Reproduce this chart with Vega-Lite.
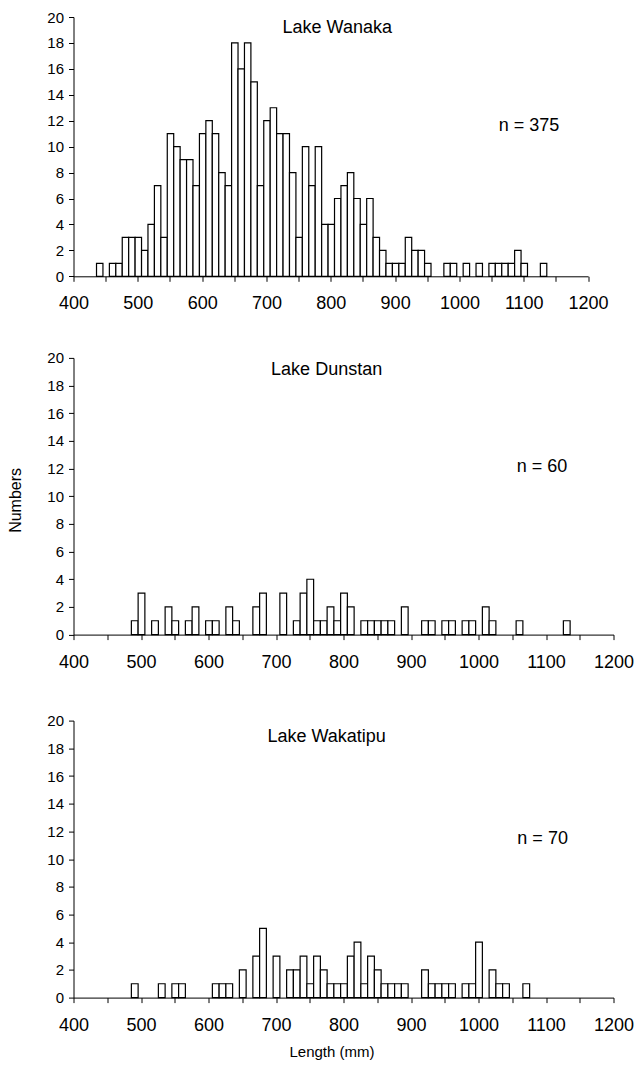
{
  "$schema": "https://vega.github.io/schema/vega-lite/v6.json",
  "background": "white",
  "padding": {"left": 7.5, "top": 10, "right": 2, "bottom": 5},
  "bounds": "flush",
  "spacing": 80.9,
  "config": {
    "font": "Liberation Sans",
    "view": {"stroke": null},
    "axis": {
      "grid": false,
      "domainColor": "#000",
      "tickColor": "#000",
      "labelColor": "#000",
      "titleColor": "#000",
      "labelFont": "Liberation Sans",
      "titleFont": "Liberation Sans",
      "labelFontSize": 18,
      "titleFontSize": 16,
      "titleFontWeight": "normal",
      "tickSize": 5,
      "domainWidth": 1,
      "tickWidth": 1,
      "labelOverlap": false
    },
    "axisX": {"tickCount": 40},
    "axisY": {"labelFontSize": 15, "labelOverlap": false, "tickCount": 40},
    "text": {"font": "Liberation Sans", "fontSize": 18, "color": "#000"}
  },
  "datasets": {
    "wanaka": [
      {"from": 435, "to": 445, "n": 1}, {"from": 455, "to": 465, "n": 1}, {"from": 465, "to": 475, "n": 1},
      {"from": 475, "to": 485, "n": 3}, {"from": 485, "to": 495, "n": 3}, {"from": 495, "to": 505, "n": 3},
      {"from": 505, "to": 515, "n": 2}, {"from": 515, "to": 525, "n": 4}, {"from": 525, "to": 535, "n": 7},
      {"from": 535, "to": 545, "n": 3}, {"from": 545, "to": 555, "n": 11}, {"from": 555, "to": 565, "n": 10},
      {"from": 565, "to": 575, "n": 9}, {"from": 575, "to": 585, "n": 9}, {"from": 585, "to": 595, "n": 7},
      {"from": 595, "to": 605, "n": 11}, {"from": 605, "to": 615, "n": 12}, {"from": 615, "to": 625, "n": 11},
      {"from": 625, "to": 635, "n": 8}, {"from": 635, "to": 645, "n": 7}, {"from": 645, "to": 655, "n": 18},
      {"from": 655, "to": 665, "n": 16}, {"from": 665, "to": 675, "n": 18}, {"from": 675, "to": 685, "n": 15},
      {"from": 685, "to": 695, "n": 7}, {"from": 695, "to": 705, "n": 12}, {"from": 705, "to": 715, "n": 13},
      {"from": 715, "to": 725, "n": 11}, {"from": 725, "to": 735, "n": 11}, {"from": 735, "to": 745, "n": 8},
      {"from": 745, "to": 755, "n": 3}, {"from": 755, "to": 765, "n": 10}, {"from": 765, "to": 775, "n": 7},
      {"from": 775, "to": 785, "n": 10}, {"from": 785, "to": 795, "n": 4}, {"from": 795, "to": 805, "n": 4},
      {"from": 805, "to": 815, "n": 6}, {"from": 815, "to": 825, "n": 7}, {"from": 825, "to": 835, "n": 8},
      {"from": 835, "to": 845, "n": 6}, {"from": 845, "to": 855, "n": 4}, {"from": 855, "to": 865, "n": 6},
      {"from": 865, "to": 875, "n": 3}, {"from": 875, "to": 885, "n": 2}, {"from": 885, "to": 895, "n": 1},
      {"from": 895, "to": 905, "n": 1}, {"from": 905, "to": 915, "n": 1}, {"from": 915, "to": 925, "n": 3},
      {"from": 925, "to": 935, "n": 2}, {"from": 935, "to": 945, "n": 2}, {"from": 945, "to": 955, "n": 1},
      {"from": 975, "to": 985, "n": 1}, {"from": 985, "to": 995, "n": 1}, {"from": 1005, "to": 1015, "n": 1},
      {"from": 1025, "to": 1035, "n": 1}, {"from": 1045, "to": 1055, "n": 1}, {"from": 1055, "to": 1065, "n": 1},
      {"from": 1065, "to": 1075, "n": 1}, {"from": 1075, "to": 1085, "n": 1}, {"from": 1085, "to": 1095, "n": 2},
      {"from": 1095, "to": 1105, "n": 1}, {"from": 1125, "to": 1135, "n": 1}
    ],
    "dunstan": [
      {"from": 485, "to": 495, "n": 1}, {"from": 495, "to": 505, "n": 3}, {"from": 515, "to": 525, "n": 1},
      {"from": 535, "to": 545, "n": 2}, {"from": 545, "to": 555, "n": 1}, {"from": 565, "to": 575, "n": 1},
      {"from": 575, "to": 585, "n": 2}, {"from": 595, "to": 605, "n": 1}, {"from": 605, "to": 615, "n": 1},
      {"from": 625, "to": 635, "n": 2}, {"from": 635, "to": 645, "n": 1}, {"from": 665, "to": 675, "n": 2},
      {"from": 675, "to": 685, "n": 3}, {"from": 705, "to": 715, "n": 3}, {"from": 725, "to": 735, "n": 1},
      {"from": 735, "to": 745, "n": 3}, {"from": 745, "to": 755, "n": 4}, {"from": 755, "to": 765, "n": 1},
      {"from": 765, "to": 775, "n": 1}, {"from": 775, "to": 785, "n": 2}, {"from": 785, "to": 795, "n": 1},
      {"from": 795, "to": 805, "n": 3}, {"from": 805, "to": 815, "n": 2}, {"from": 825, "to": 835, "n": 1},
      {"from": 835, "to": 845, "n": 1}, {"from": 845, "to": 855, "n": 1}, {"from": 855, "to": 865, "n": 1},
      {"from": 865, "to": 875, "n": 1}, {"from": 885, "to": 895, "n": 2}, {"from": 915, "to": 925, "n": 1},
      {"from": 925, "to": 935, "n": 1}, {"from": 945, "to": 955, "n": 1}, {"from": 955, "to": 965, "n": 1},
      {"from": 975, "to": 985, "n": 1}, {"from": 985, "to": 995, "n": 1}, {"from": 1005, "to": 1015, "n": 2},
      {"from": 1015, "to": 1025, "n": 1}, {"from": 1055, "to": 1065, "n": 1}, {"from": 1125, "to": 1135, "n": 1}
    ],
    "wakatipu": [
      {"from": 485, "to": 495, "n": 1}, {"from": 525, "to": 535, "n": 1}, {"from": 545, "to": 555, "n": 1},
      {"from": 555, "to": 565, "n": 1}, {"from": 605, "to": 615, "n": 1}, {"from": 615, "to": 625, "n": 1},
      {"from": 625, "to": 635, "n": 1}, {"from": 645, "to": 655, "n": 2}, {"from": 665, "to": 675, "n": 3},
      {"from": 675, "to": 685, "n": 5}, {"from": 695, "to": 705, "n": 3}, {"from": 715, "to": 725, "n": 2},
      {"from": 725, "to": 735, "n": 2}, {"from": 735, "to": 745, "n": 3}, {"from": 745, "to": 755, "n": 1},
      {"from": 755, "to": 765, "n": 3}, {"from": 765, "to": 775, "n": 2}, {"from": 775, "to": 785, "n": 1},
      {"from": 785, "to": 795, "n": 1}, {"from": 795, "to": 805, "n": 1}, {"from": 805, "to": 815, "n": 3},
      {"from": 815, "to": 825, "n": 4}, {"from": 825, "to": 835, "n": 1}, {"from": 835, "to": 845, "n": 3},
      {"from": 845, "to": 855, "n": 2}, {"from": 855, "to": 865, "n": 1}, {"from": 865, "to": 875, "n": 1},
      {"from": 875, "to": 885, "n": 1}, {"from": 885, "to": 895, "n": 1}, {"from": 915, "to": 925, "n": 2},
      {"from": 925, "to": 935, "n": 1}, {"from": 935, "to": 945, "n": 1}, {"from": 945, "to": 955, "n": 1},
      {"from": 955, "to": 965, "n": 1}, {"from": 975, "to": 985, "n": 1}, {"from": 985, "to": 995, "n": 1},
      {"from": 995, "to": 1005, "n": 4}, {"from": 1015, "to": 1025, "n": 2}, {"from": 1025, "to": 1035, "n": 1},
      {"from": 1035, "to": 1045, "n": 1}, {"from": 1065, "to": 1075, "n": 1}
    ]
  },
  "vconcat": [
    {
      "width": 514.6,
      "height": 259.3,
      "layer": [
        {
          "data": {"name": "wanaka"},
          "mark": {"type": "bar", "fill": "white", "stroke": "#000", "strokeWidth": 1.2, "binSpacing": 0},
          "encoding": {
            "x": {"field": "from", "type": "quantitative", "bin": "binned", "title": null,
              "scale": {"domain": [400, 1200], "nice": false, "zero": false},
              "axis": {"values": [400, 450, 500, 550, 600, 650, 700, 750, 800, 850, 900, 950, 1000, 1050, 1100, 1150, 1200], "tickCount": 40,
                "format": "d", "labelExpr": "datum.value % 100 === 0 ? datum.label : ''", "labelPadding": 13.5, "labelFlush": false, "labelOverlap": false}},
            "x2": {"field": "to"},
            "y": {"field": "n", "type": "quantitative", "title": null,
              "scale": {"domain": [0, 20], "nice": false},
              "axis": {"values": [0, 2, 4, 6, 8, 10, 12, 14, 16, 18, 20], "tickCount": 40, "format": "d", "labelPadding": 5, "labelOverlap": false}}
          }
        },
        {
          "data": {"values": [{}]},
          "mark": {"type": "text", "text": "Lake Wanaka", "align": "center", "baseline": "alphabetic"},
          "encoding": {"x": {"datum": 810}, "y": {"datum": 18.77}}
        },
        {
          "data": {"values": [{}]},
          "mark": {"type": "text", "text": "n = 375", "align": "center", "baseline": "alphabetic"},
          "encoding": {"x": {"datum": 1108}, "y": {"datum": 11.18}}
        }
      ]
    },
    {
      "bounds": "flush",
      "spacing": 85.7,
      "vconcat": [
        {
          "width": 540,
          "height": 276.7,
          "layer": [
            {
              "data": {"name": "dunstan"},
              "mark": {"type": "bar", "fill": "white", "stroke": "#000", "strokeWidth": 1.2, "binSpacing": 0},
              "encoding": {
                "x": {"field": "from", "type": "quantitative", "bin": "binned", "title": null,
                  "scale": {"domain": [400, 1200], "nice": false, "zero": false},
                  "axis": {"values": [400, 450, 500, 550, 600, 650, 700, 750, 800, 850, 900, 950, 1000, 1050, 1100, 1150, 1200], "tickCount": 40,
                    "format": "d", "labelExpr": "datum.value % 100 === 0 ? datum.label : ''", "labelPadding": 13.5, "labelFlush": false, "labelOverlap": false}},
                "x2": {"field": "to"},
                "y": {"field": "n", "type": "quantitative", "title": "Numbers",
                  "scale": {"domain": [0, 20], "nice": false},
                  "axis": {"values": [0, 2, 4, 6, 8, 10, 12, 14, 16, 18, 20], "tickCount": 40, "format": "d", "labelPadding": 5, "labelOverlap": false, "titlePadding": 23, "titleY": 142}}
              }
            },
            {
              "data": {"values": [{}]},
              "mark": {"type": "text", "text": "Lake Dunstan", "align": "center", "baseline": "alphabetic"},
              "encoding": {"x": {"datum": 775}, "y": {"datum": 18.75}}
            },
            {
              "data": {"values": [{}]},
              "mark": {"type": "text", "text": "n = 60", "align": "center", "baseline": "alphabetic"},
              "encoding": {"x": {"datum": 1094}, "y": {"datum": 11.75}}
            }
          ]
        },
        {
          "width": 540,
          "height": 277,
          "layer": [
            {
              "data": {"name": "wakatipu"},
              "mark": {"type": "bar", "fill": "white", "stroke": "#000", "strokeWidth": 1.2, "binSpacing": 0},
              "encoding": {
                "x": {"field": "from", "type": "quantitative", "bin": "binned", "title": "Length (mm)",
                  "scale": {"domain": [400, 1200], "nice": false, "zero": false},
                  "axis": {"values": [400, 450, 500, 550, 600, 650, 700, 750, 800, 850, 900, 950, 1000, 1050, 1100, 1150, 1200], "tickCount": 40,
                    "format": "d", "labelExpr": "datum.value % 100 === 0 ? datum.label : ''", "labelPadding": 13.5, "labelFlush": false, "labelOverlap": false, "titlePadding": 10.5, "titleFontSize": 15, "titleX": 258}},
                "x2": {"field": "to"},
                "y": {"field": "n", "type": "quantitative", "title": null,
                  "scale": {"domain": [0, 20], "nice": false},
                  "axis": {"values": [0, 2, 4, 6, 8, 10, 12, 14, 16, 18, 20], "tickCount": 40, "format": "d", "labelPadding": 5, "labelOverlap": false}}
              }
            },
            {
              "data": {"values": [{}]},
              "mark": {"type": "text", "text": "Lake Wakatipu", "align": "center", "baseline": "alphabetic"},
              "encoding": {"x": {"datum": 775}, "y": {"datum": 18.48}}
            },
            {
              "data": {"values": [{}]},
              "mark": {"type": "text", "text": "n = 70", "align": "center", "baseline": "alphabetic"},
              "encoding": {"x": {"datum": 1095}, "y": {"datum": 11.1}}
            }
          ]
        }
      ]
    }
  ]
}
